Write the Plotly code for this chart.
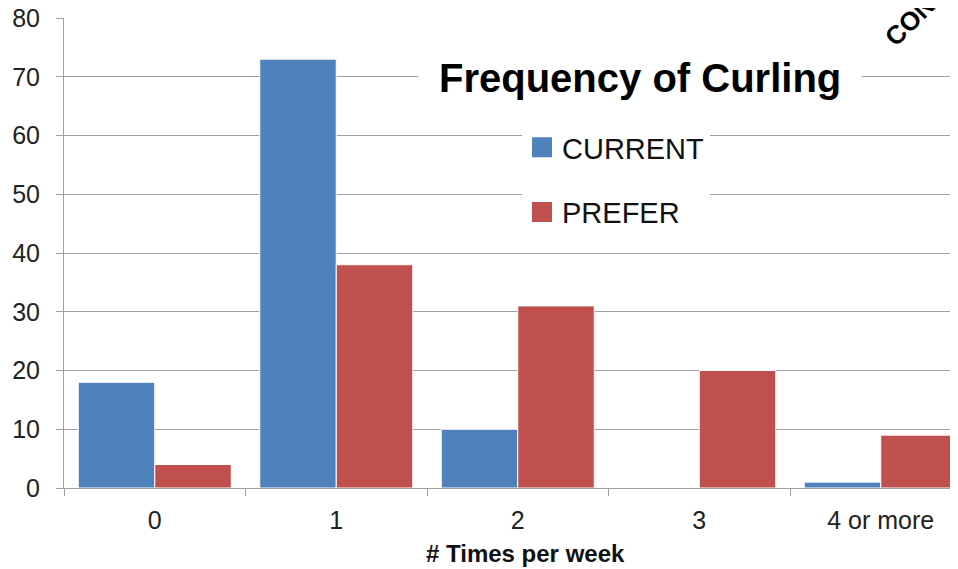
import plotly.graph_objects as go

categories = ["0", "1", "2", "3", "4 or more"]
current = [18, 73, 10, 0, 1]
prefer = [4, 38, 31, 20, 9]
y_ticks = [0, 10, 20, 30, 40, 50, 60, 70, 80]

BLUE = "#4F81BD"
RED = "#C0504D"
GRID = "#A0A0A0"
FONT = "Liberation Sans, Arial, sans-serif"

fig = go.Figure()
fig.add_trace(go.Bar(x=categories, y=current, name="CURRENT", marker=dict(color=BLUE, line=dict(color="white", width=1)), showlegend=False))
fig.add_trace(go.Bar(x=categories, y=prefer, name="PREFER", marker=dict(color=RED, line=dict(color="white", width=1)), showlegend=False))
# legend entries (square swatches)
fig.add_trace(go.Scatter(x=[None], y=[None], mode="markers", name="CURRENT", legendgroup="a",
                         marker=dict(symbol="square", size=16, color=BLUE, line=dict(color=BLUE, width=4))))
fig.add_trace(go.Scatter(x=[None], y=[None], mode="markers", name="PREFER", legendgroup="b",
                         marker=dict(symbol="square", size=16, color=RED, line=dict(color=RED, width=4))))

OFF = 8  # page body margin
W, H = 958, 569
L, R, T, B = 64 - OFF, 0, 18 - OFF, 569 - (488 - OFF)
pw = W - L - R
ph = H - T - B
cat_px = 181.5


def px(xp):
    return (xp - OFF - L) / pw


def py(yp):
    return (H - B - (yp - OFF)) / ph


fig.update_layout(
    width=W, height=H,
    margin=dict(l=L, r=R, t=T, b=B, autoexpand=False),
    paper_bgcolor="white", plot_bgcolor="white",
    barmode="group", bargap=0.157, bargroupgap=0,
    font=dict(family=FONT, color="#222222"),
    showlegend=True,
    legend=dict(x=px(522), y=py(122), xanchor="left", yanchor="top",
                bgcolor="white", borderwidth=0, font=dict(size=29, color="#111111"),
                traceorder="grouped", tracegroupgap=24, itemsizing="trace"),
    xaxis=dict(type="category", range=[-0.5, -0.5 + pw / cat_px], automargin=False,
               showgrid=False, showline=True, linecolor=GRID, linewidth=1,
               ticks="outside", tickson="boundaries", ticklen=7, tickcolor=GRID,
               tickfont=dict(size=25, color="#222222"), ticklabelstandoff=10),
    yaxis=dict(range=[0, 80], tickvals=y_ticks, showgrid=True, gridcolor=GRID, gridwidth=1,
               showline=True, linecolor=GRID, linewidth=1, zeroline=False, automargin=False,
               ticks="outside", ticklen=7, tickcolor=GRID, ticklabeloverflow="allow",
               tickfont=dict(size=25, color="#222222"), ticklabelstandoff=11),
    annotations=[
        dict(text="<b>Frequency of Curling</b>", xref="paper", yref="paper",
             x=px(640), y=py(78), xanchor="center", yanchor="middle",
             showarrow=False, bgcolor="white", borderpad=20,
             font=dict(size=40, color="#000000", family=FONT)),
        dict(text="<b># Times per week</b>", xref="paper", yref="paper",
             x=px(525), y=py(553), xanchor="center", yanchor="middle",
             showarrow=False, font=dict(size=24, color="#111111", family=FONT)),
        dict(text="<b>CON</b>", xref="paper", yref="paper",
             x=px(910), y=py(21), xanchor="center", yanchor="middle",
             showarrow=False, textangle=-45, font=dict(size=26, color="#000000", family=FONT)),
    ],
)

fig.write_html("out.html")
